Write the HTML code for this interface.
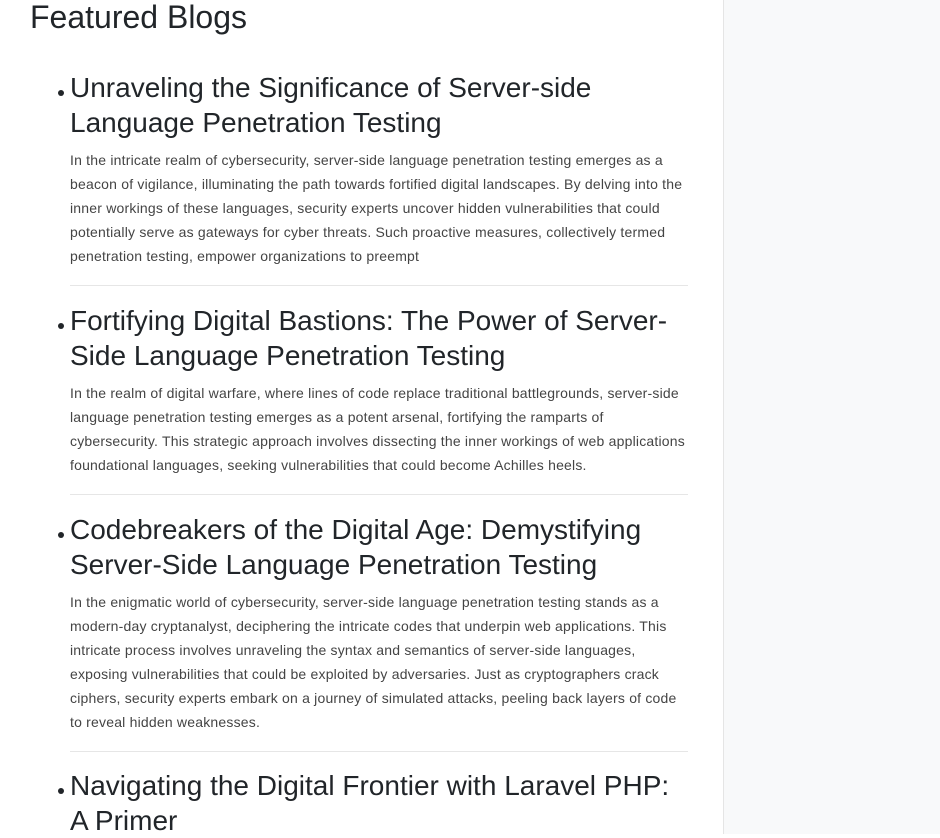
<!DOCTYPE html>
<html><head><meta charset="utf-8">
<style>
html,body{margin:0;padding:0;width:940px;height:834px;overflow:hidden;background:#fff;font-family:"Liberation Sans",Arial,sans-serif;color:#212529;}
.sidebar{position:absolute;left:723px;top:0;width:217px;height:834px;background:#f8f9fa;border-left:1px solid #e5e5e5;}
h2{position:absolute;left:30px;top:-3px;margin:0;font-size:32px;font-weight:400;line-height:40px;}
.title{position:absolute;left:70px;width:618px;margin:0;font-size:28px;font-weight:400;line-height:35px;}
.title:before{content:"";position:absolute;left:-12px;top:20px;width:6px;height:6px;border-radius:50%;background:#212529;}
.para{position:absolute;left:70px;width:640px;margin:0;font-size:14px;line-height:24px;color:#444;letter-spacing:0.2px;white-space:nowrap;}
.hr{position:absolute;left:70px;width:618px;height:0;border-top:1px solid #e6e6e6;}
</style></head><body>
<div class="sidebar"></div>
<h2>Featured Blogs</h2>

<div class="title" style="top:70px">Unraveling the Significance of Server-side Language Penetration Testing</div>
<p class="para" style="top:148px">In the intricate realm of cybersecurity, server-side language penetration testing emerges as a<br>beacon of vigilance, illuminating the path towards fortified digital landscapes. By delving into the<br>inner workings of these languages, security experts uncover hidden vulnerabilities that could<br>potentially serve as gateways for cyber threats. Such proactive measures, collectively termed<br>penetration testing, empower organizations to preempt</p>
<div class="hr" style="top:285px"></div>

<div class="title" style="top:303px">Fortifying Digital Bastions: The Power of Server-Side Language Penetration Testing</div>
<p class="para" style="top:381px">In the realm of digital warfare, where lines of code replace traditional battlegrounds, server-side<br>language penetration testing emerges as a potent arsenal, fortifying the ramparts of<br>cybersecurity. This strategic approach involves dissecting the inner workings of web applications<br>foundational languages, seeking vulnerabilities that could become Achilles heels.</p>
<div class="hr" style="top:494px"></div>

<div class="title" style="top:512px">Codebreakers of the Digital Age: Demystifying Server-Side Language Penetration Testing</div>
<p class="para" style="top:590px">In the enigmatic world of cybersecurity, server-side language penetration testing stands as a<br>modern-day cryptanalyst, deciphering the intricate codes that underpin web applications. This<br>intricate process involves unraveling the syntax and semantics of server-side languages,<br>exposing vulnerabilities that could be exploited by adversaries. Just as cryptographers crack<br>ciphers, security experts embark on a journey of simulated attacks, peeling back layers of code<br>to reveal hidden weaknesses.</p>
<div class="hr" style="top:751px"></div>

<div class="title" style="top:768px">Navigating the Digital Frontier with Laravel PHP: A Primer</div>
</body></html>
